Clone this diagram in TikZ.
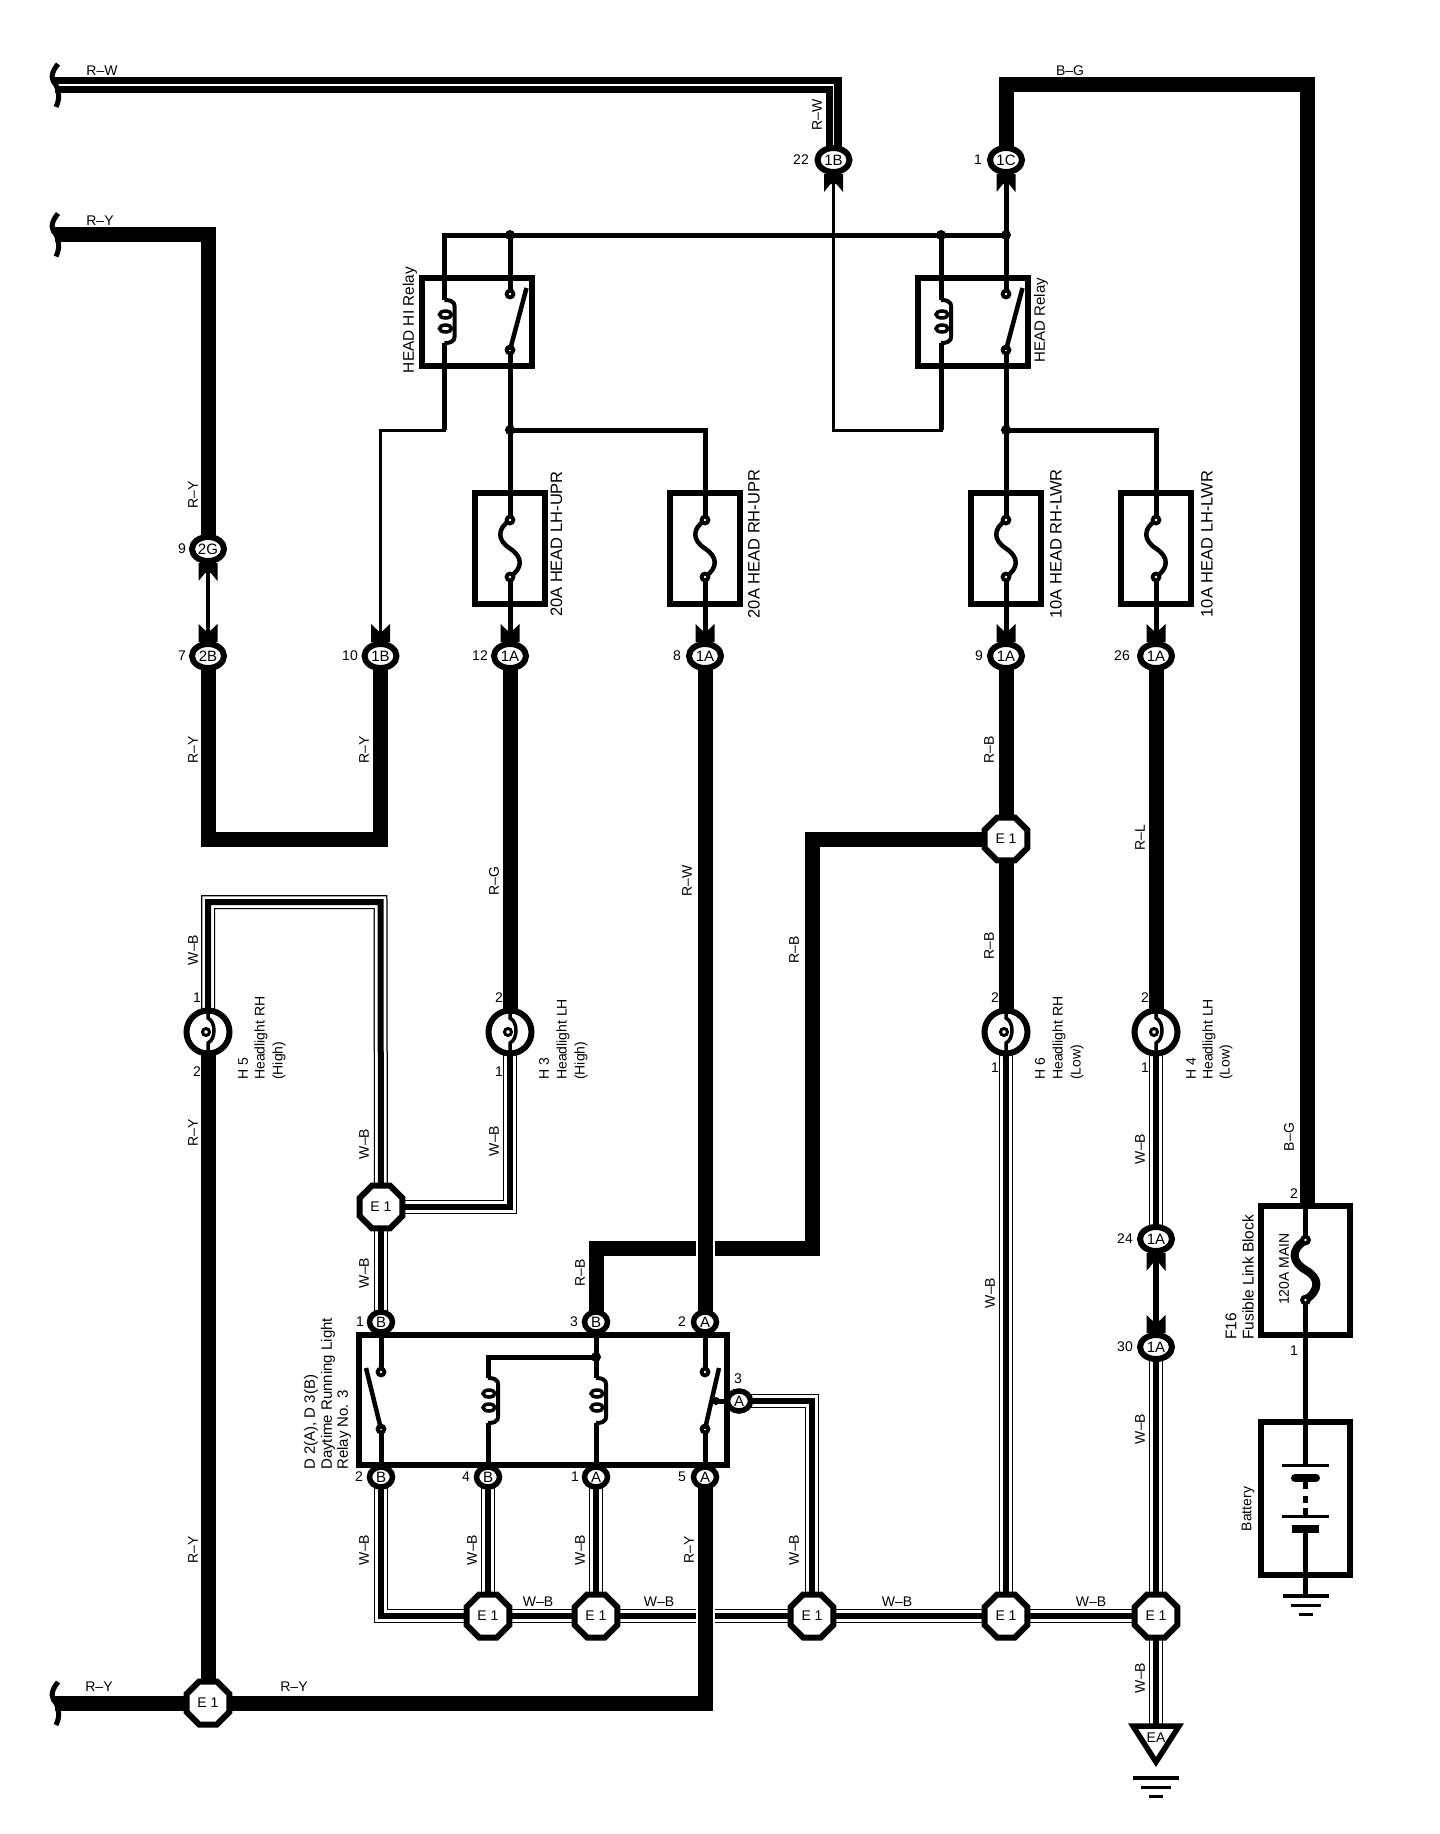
\documentclass[tikz,border=0pt]{standalone}
\usepackage{fontspec}
\setmainfont{Liberation Sans}
\usetikzlibrary{shapes.geometric}
\pgfdeclarelayer{bg}
\pgfsetlayers{bg,main}
\newcount\lblc
\tikzset{
 txt/.style={font=\fontsize{14}{14}\selectfont,inner sep=0pt},
 thickw/.style={draw,line width=15pt},
 rww/.style={draw,line width=16pt,postaction={draw,white,line width=1.5pt}},
 wbw/.style={preaction={draw,black,line width=14pt},preaction={draw,white,line width=11.5pt},draw,line width=6pt},
 halo/.style={draw,white,line width=19pt},
 sigw/.style={draw,line width=5pt},
 finew/.style={draw,line width=3pt},
 conn/.style={ellipse,draw,line width=6pt,fill=white,minimum width=32pt,minimum height=24pt,inner sep=0pt,font=\fontsize{15}{15}\selectfont},
 rconn/.style={ellipse,draw,line width=5.5pt,fill=white,minimum width=23pt,minimum height=20pt,inner sep=0pt,font=\fontsize{15}{15}\selectfont},
 octa/.style={regular polygon,regular polygon sides=8,draw,line width=6pt,fill=white,minimum size=46.5pt,inner sep=0pt,font=\fontsize{14}{14}\selectfont},
 lampn/.style={circle,draw,line width=6pt,fill=white,minimum size=43pt,inner sep=0pt},
 boxn/.style={rectangle,draw,line width=5.5pt,inner sep=0pt},
 jdot/.style={circle,fill=black,minimum size=10pt,inner sep=0pt},
}
\newcommand{\HL}[3]{\global\advance\lblc by 1 \node[txt] (lb\the\lblc) at (#1,#2) {#3};}
\newcommand{\VL}[3]{\global\advance\lblc by 1 \node[txt,rotate=90] (lb\the\lblc) at (#1,#2) {#3};}
\newcommand{\VLW}[3]{\global\advance\lblc by 1 \node[txt,rotate=90,anchor=west] (lb\the\lblc) at (#1,#2) {#3};}
\newcommand{\VLS}[4]{\global\advance\lblc by 1 \node[txt,rotate=90,font=\fontsize{#1}{#1}\selectfont] (lb\the\lblc) at (#2,#3) {#4};}
\newcommand{\VLWS}[4]{\global\advance\lblc by 1 \node[txt,rotate=90,anchor=west,font=\fontsize{#1}{#1}\selectfont] (lb\the\lblc) at (#2,#3) {#4};}
\newcommand{\forkbelow}[2]{\fill (#1-9.5,#2) -- (#1+9.5,#2) -- (#1+9.5,#2+18) -- (#1+3,#2+10) -- (#1-3,#2+10) -- (#1-9.5,#2+18) -- cycle;}
\newcommand{\forkabove}[2]{\fill (#1-9.5,#2) -- (#1+9.5,#2) -- (#1+9.5,#2-18) -- (#1,#2-9) -- (#1-9.5,#2-18) -- cycle;}
\newcommand{\brk}[1]{\draw[line width=5pt] (58,#1-21) .. controls (49,#1-10) and (52,#1-4) .. (56,#1) .. controls (59,#1+6) and (60,#1+14) .. (56,#1+22);}
\newcommand{\contact}[2]{\fill (#1,#2) circle (5.5pt); \fill[white] (#1,#2) circle (1.3pt);}
\newcommand{\coil}[3]{%
 \draw[line width=4pt,line join=round] (#1,#2) .. controls (#1+12,#2) and (#1+10,#2+6) .. (#1+10,#2+10) -- (#1+10,#3-10) .. controls (#1+10,#3-6) and (#1+12,#3) .. (#1,#3);
 \draw[line width=3.5pt] (#1+1,{(#2+#3)/2-7}) ellipse (6pt and 3.5pt);
 \draw[line width=3.5pt] (#1+1,{(#2+#3)/2+7}) ellipse (6pt and 3.5pt);}
\newcommand{\fusecurve}[3]{%
 \draw[line width=4.5pt] (#1,#2) .. controls (#1-13,#2+9) and (#1-13,#2+20) .. (#1,{(#2+#3)/2}) .. controls (#1+13,#3-20) and (#1+13,#3-9) .. (#1,#3);
 \contact{#1}{#2}\contact{#1}{#3}}
\newcommand{\filament}[2]{%
 \draw[line width=3.5pt] (#1,#2-22) -- (#1,#2-14) .. controls (#1+8,#2-10) and (#1+8,#2+7) .. (#1,#2+11) -- (#1,#2+22);
 \draw[line width=3pt] (#1-2,#2) circle (3.5pt);}
\newcommand{\gnd}[2]{%
 \draw[line width=3.5pt] (#1-23,#2) -- (#1+23,#2);
 \draw[line width=3pt] (#1-15,#2+9) -- (#1+15,#2+9);
 \draw[line width=3pt] (#1-7,#2+18) -- (#1+7,#2+18);}
\begin{document}
\begin{tikzpicture}[x=1pt,y=-1pt]
\useasboundingbox (0,0) rectangle (1440,1834);
% connectors, upper rows
\node[conn] (c22) at (833.5,160) {1B};
\node[conn] (c1c) at (1006,160) {1C};
\node[conn] (c2g) at (208,549) {2G};
\node[conn] (c2b) at (208,656) {2B};
\node[conn] (c10) at (380.5,656) {1B};
\node[conn] (c12) at (510,656) {1A};
\node[conn] (c8) at (705,656) {1A};
\node[conn] (c9) at (1006,656) {1A};
\node[conn] (c26) at (1156,656) {1A};
\node[conn] (c24) at (1156,1239) {1A};
\node[conn] (c30) at (1156,1347) {1A};
% relay connectors
\node[rconn] (t1) at (381,1322) {B};
\node[rconn] (t3) at (596,1322) {B};
\node[rconn] (t2) at (705,1322) {A};
\node[rconn] (b2) at (381,1477) {B};
\node[rconn] (b4) at (488,1477) {B};
\node[rconn] (b1) at (596,1477) {A};
\node[rconn] (b5) at (705,1477) {A};
\node[rconn] (s3) at (739,1401) {A};
% splices
\node[octa] (e1a) at (381,1207) {E 1};
\node[octa] (e1r) at (1006,839) {E 1};
\node[octa] (e1s) at (208,1703) {E 1};
\node[octa] (e1b) at (488,1616) {E 1};
\node[octa] (e1c) at (596,1616) {E 1};
\node[octa] (e1d) at (812,1616) {E 1};
\node[octa] (e1e) at (1006,1616) {E 1};
\node[octa] (e1f) at (1156,1616) {E 1};
% lamps
\node[lampn] (h5) at (208,1032) {};
\node[lampn] (h3) at (510,1032) {};
\node[lampn] (h6) at (1006,1032) {};
\node[lampn] (h4) at (1156,1032) {};
% boxes
\node[boxn,minimum width=110pt,minimum height=88pt] (rhi) at (477,322) {};
\node[boxn,minimum width=110pt,minimum height=88pt] (rlo) at (973,322) {};
\node[boxn,line width=6pt,minimum width=70pt,minimum height=111pt] (f1) at (510,548.5) {};
\node[boxn,line width=6pt,minimum width=70pt,minimum height=111pt] (f2) at (705,548.5) {};
\node[boxn,line width=6pt,minimum width=70pt,minimum height=111pt] (f3) at (1006,548.5) {};
\node[boxn,line width=6pt,minimum width=70pt,minimum height=111pt] (f4) at (1156,548.5) {};
\node[boxn,line width=6pt,minimum width=368pt,minimum height=130pt] (dr) at (543,1400) {};
\node[boxn,line width=6pt,minimum width=89pt,minimum height=129pt] (fl) at (1305.5,1270) {};
\node[boxn,line width=6pt,minimum width=89pt,minimum height=153pt] (bt) at (1305.5,1498.5) {};
% junctions
\node[jdot] (j1) at (510,235) {};
\node[jdot] (j2) at (941,235) {};
\node[jdot] (j3) at (1006,235) {};
\node[jdot] (j4) at (510,430) {};
\node[jdot] (j5) at (1006,430) {};
\node[jdot] (j6) at (596,1357) {};
\node[jdot,minimum size=8pt] (j7) at (716,1401) {};
% free ends
\coordinate (rwL) at (55,85);
\coordinate (ryL) at (55,234.5);
\coordinate (ryB) at (55,1703);
\coordinate (ea) at (1156,1726);
% wires
\begin{pgfonlayer}{bg}
\path[rww] (rwL) -| (c22.center);
\path[thickw] (c1c.center) |- (1307.5,84.5) -- (1307.5,1205);
\path[thickw] (ryL) -| (c2g.center);
\path[draw,line width=4.5pt] (c2g.center) -- (c2b.center);
\path[thickw] (c2b.center) -- (208,839) -- (380.5,839) -- (c10.center);
\path[thickw] (c12.center) -- (h3.center);
\path[thickw] (c9.center) -- (h6.center);
\path[thickw] (c26.center) -- (h4.center);
% high-side line
\path[sigw] (444.5,300) -- (444.5,235) -- (j3.center);
\path[sigw] (444.5,343) -- (444.5,430);
\path[finew] (446,430) -- (380.5,430) -- (c10.center);
\path[sigw] (j1.center) -- (510,294);
\path[sigw] (510,350) -- (j4.center) -- (510,520);
\path[sigw] (510,577) -- (c12.center);
\path[sigw] (j4.center) -| (705,520);
\path[sigw] (705,577) -- (c8.center);
\path[sigw] (c1c.center) -- (1006,294);
\path[sigw] (1006,350) -- (j5.center) -- (1006,520);
\path[sigw] (1006,577) -- (c9.center);
\path[sigw] (j5.center) -| (1156,520);
\path[sigw] (1156,577) -- (c26.center);
\path[sigw] (j2.center) -- (941,300);
\path[sigw] (941,343) -- (941,430);
\path[finew] (c22.center) |- (943,430);
% low side
\path[wbw] (h5.center) |- (380.5,902) -- (e1a.center);
\path[wbw] (h3.center) |- (e1a.center);
\path[wbw] (e1a.center) -- (t1.center);
\path[wbw] (b2.center) |- (e1f.center);
\path[wbw] (b4.center) -- (e1b.center);
\path[wbw] (b1.center) -- (e1c.center);
\path[wbw] (s3.center) -| (e1d.center);
\path[wbw] (h6.center) -- (e1e.center);
\path[wbw] (h4.center) -- (c24.center);
\path[wbw] (c30.center) -- (e1f.center);
\path[wbw] (e1f.center) -- (ea);
\path[draw,line width=6pt] (c24.center) -- (c30.center);
\path[thickw] (e1r.center) -- (812,839) -- (812,1248) -- (596,1248) -- (t3.center);
\path[halo] (705,900) -- (705,1310);
\path[thickw] (c8.center) -- (t2.center);
\path[thickw] (h5.center) -- (e1s.center);
\path[thickw] (ryB) -- (705,1703);
\path[halo] (705,1500) -- (705,1692);
\path[thickw] (b5.center) -- (705,1710.5);
% relay inner
\path[sigw] (t1.center) -- (381,1372);
\path[sigw] (381,1429) -- (b2.center);
\path[sigw] (t3.center) -- (596,1378);
\path[sigw] (596,1423) -- (b1.center);
\path[sigw] (j6.center) -- (488,1357) -- (488,1378);
\path[sigw] (488,1423) -- (b4.center);
\path[sigw] (t2.center) -- (705,1372);
\path[sigw] (705,1429) -- (b5.center);
\path[sigw] (j7.center) -- (s3.center);
% fusible link and battery
\path[sigw] (1305.5,1205) -- (1305.5,1240);
\path[sigw] (1305.5,1300) -- (1305.5,1465);
\path[sigw] (1305.5,1478) -- (1305.5,1489);
\path[sigw] (1305.5,1529) -- (1305.5,1596);
\end{pgfonlayer}
% bracket ends
\brk{85}\brk{234.5}\brk{1703}
% forks
\forkbelow{833.5}{174}\forkbelow{1006}{174}\forkbelow{208}{563}
\forkabove{208}{642}\forkabove{380.5}{642}\forkabove{510}{642}\forkabove{705}{642}\forkabove{1006}{642}\forkabove{1156}{642}
\forkbelow{1156}{1253}\forkabove{1156}{1333}
% relays
\coil{444.5}{300}{343}
\contact{510}{294}\contact{510}{350}
\draw[line width=4.5pt] (510,350) -- (526.5,288);
\coil{941}{300}{343}
\contact{1006}{294}\contact{1006}{350}
\draw[line width=4.5pt] (1006,350) -- (1022.5,288);
\coil{488}{1378}{1423}
\coil{596}{1378}{1423}
\contact{381}{1372}\contact{381}{1429}
\draw[line width=4.5pt] (381,1429) -- (366,1368);
\contact{705}{1372}\contact{705}{1429}
\draw[line width=4.5pt] (705,1429) -- (719,1368);
% fuses
\fusecurve{510}{520}{577}
\fusecurve{705}{520}{577}
\fusecurve{1006}{520}{577}
\fusecurve{1156}{520}{577}
\draw[line width=8pt] (1305.5,1240) .. controls (1290,1250) and (1292,1262) .. (1305.5,1270) .. controls (1320,1278) and (1320,1290) .. (1305.5,1300);
\contact{1305.5}{1240}\contact{1305.5}{1300}
% lamps
\filament{208}{1032}\filament{510}{1032}\filament{1006}{1032}\filament{1156}{1032}
% battery
\draw[line width=3pt] (1282,1465) -- (1329,1465);
\draw[line width=3pt] (1282,1516) -- (1329,1516);
\draw[line width=8pt,line cap=round] (1295,1478) -- (1316,1478);
\draw[line width=8pt] (1292,1529) -- (1319,1529);
\draw[line width=5pt] (1305.5,1496) -- (1305.5,1503);
\draw[line width=5pt] (1305.5,1508) -- (1305.5,1516);
\gnd{1305.5}{1596}
% EA
\node[txt,fill=white,inner sep=1pt] (eal) at (1156,1738) {EA};
\draw[line width=5.5pt,line join=miter] (1133,1726) -- (1179,1726) -- (1156,1762) -- cycle;
\gnd{1156}{1778}
% pin numbers
\HL{801}{160}{22}\HL{978}{160}{1}\HL{182}{549}{9}\HL{182}{656}{7}\HL{350}{656}{10}\HL{480}{656}{12}\HL{677}{656}{8}\HL{979}{656}{9}\HL{1122}{656}{26}
\HL{1125}{1239}{24}\HL{1125}{1347}{30}
\HL{360}{1322}{1}\HL{574}{1322}{3}\HL{682}{1322}{2}
\HL{359}{1477}{2}\HL{466}{1477}{4}\HL{575}{1477}{1}\HL{682}{1477}{5}\HL{738}{1379}{3}
\HL{197}{998}{1}\HL{197}{1072}{2}\HL{499}{998}{2}\HL{499}{1072}{1}\HL{995}{998}{2}\HL{995}{1068}{1}\HL{1145}{998}{2}\HL{1145}{1068}{1}
\HL{1294}{1194}{2}\HL{1294}{1351}{1}
% horizontal wire labels
\HL{102}{71}{R--W}\HL{100}{221}{R--Y}\HL{1070}{71}{B--G}
\HL{99}{1687}{R--Y}\HL{294}{1687}{R--Y}
\HL{538}{1602}{W--B}\HL{659}{1602}{W--B}\HL{897}{1602}{W--B}\HL{1091}{1602}{W--B}
% vertical wire labels
\VL{817}{115}{R--W}\VL{193}{495}{R--Y}\VL{193}{750}{R--Y}\VL{364}{750}{R--Y}
\VL{494}{881}{R--G}\VL{687}{881}{R--W}\VL{989}{750}{R--B}\VL{989}{946}{R--B}\VL{1140}{838}{R--L}\VL{794}{950}{R--B}
\VL{193}{950}{W--B}\VL{364}{1144}{W--B}\VL{494}{1141}{W--B}\VL{364}{1273}{W--B}\VL{580}{1273}{R--B}
\VL{193}{1133}{R--Y}\VL{193}{1550}{R--Y}\VL{364}{1550}{W--B}\VL{472}{1550}{W--B}\VL{580}{1550}{W--B}\VL{689}{1550}{R--Y}\VL{794}{1550}{W--B}
\VL{990}{1293}{W--B}\VL{1140}{1149}{W--B}\VL{1140}{1429}{W--B}\VL{1140}{1678}{W--B}\VL{1289}{1137}{B--G}
% component labels
\VLS{15.4}{410}{320}{HEAD HI Relay}\VLS{15}{1041}{320}{HEAD Relay}
\VLS{16.5}{556.5}{544}{20A HEAD LH-UPR}\VLS{16.5}{754}{544}{20A HEAD RH-UPR}\VLS{16.5}{1056}{544}{10A HEAD RH-LWR}\VLS{16.5}{1207}{544}{10A HEAD LH-LWR}
\VLW{243}{1080}{H 5}\VLW{261}{1080}{Headlight RH}\VLW{279}{1080}{(High)}
\VLW{544}{1080}{H 3}\VLW{563}{1080}{Headlight LH}\VLW{581}{1080}{(High)}
\VLW{1040}{1080}{H 6}\VLW{1059}{1080}{Headlight RH}\VLW{1077}{1080}{(Low)}
\VLW{1191}{1080}{H 4}\VLW{1209}{1080}{Headlight LH}\VLW{1226}{1080}{(Low)}
\VLWS{15}{311}{1470}{D 2(A), D 3(B)}\VLWS{15}{328}{1470}{Daytime Running Light}\VLWS{15}{344}{1470}{Relay No. 3}
\VL{1284}{1269}{120A MAIN}
\VLWS{15.5}{1231}{1340}{F16}\VLWS{15.5}{1248}{1340}{Fusible Link Block}
\VL{1248}{1509}{Battery}
\end{tikzpicture}
\end{document}
